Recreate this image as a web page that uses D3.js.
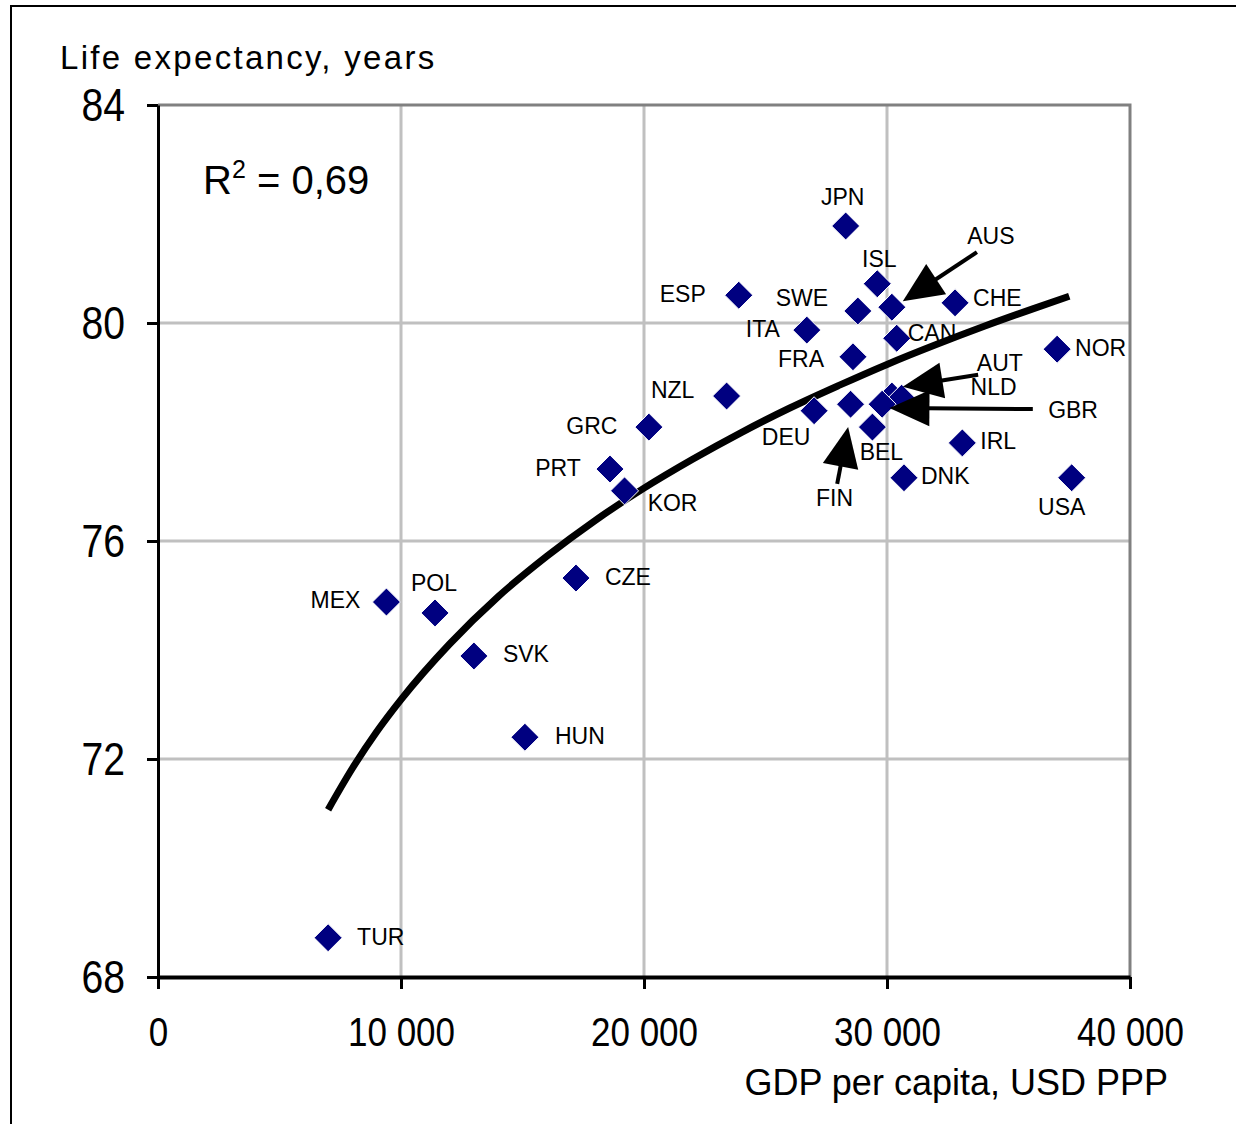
<!DOCTYPE html>
<html>
<head>
<meta charset="utf-8">
<script src="https://cdn.jsdelivr.net/npm/d3@7"></script>
<style>
  html, body { margin: 0; padding: 0; background: #fff; }
  svg { display: block; }
  text { font-family: "Liberation Sans", Arial, sans-serif; fill: #000; }
</style>
</head>
<body>
<svg id="chart" width="1236" height="1124"></svg>
<script>
// ---------- DATA ----------
const countries = ["JPN","ISL","AUS","SWE","CHE","ESP","ITA","CAN","FRA","NOR","AUT","NLD","GBR","NZL","GRC","DEU","FIN","BEL","IRL","PRT","KOR","DNK","USA","CZE","MEX","POL","SVK","HUN","TUR"];
const gdpPerCapita = [28300,29600,30200,28800,32800,23900,26700,30400,28600,37000,30200,30600,29800,23400,20200,27000,28500,29400,33100,18600,19200,30700,37600,17200,9400,11400,13000,15100,7000];
const lifeExpectancy = [81.78,80.72,80.29,80.22,80.37,80.51,79.87,79.72,79.38,79.52,78.66,78.62,78.51,78.66,78.09,78.39,78.51,78.09,77.80,77.32,76.92,77.16,77.16,75.32,74.88,74.68,73.89,72.40,68.72];

// Logarithmic trend line
const trendGdp  = [7000,8000,9000,10000,12000,14000,16000,18000,20000,22000,24000,26000,28000,30000,32000,34000,36000,37500];
const trendLife = [71.07,71.83,72.50,73.09,74.11,74.98,75.72,76.38,76.97,77.50,77.99,78.44,78.85,79.24,79.60,79.94,80.26,80.49];

const xTicks = [0,10000,20000,30000,40000];
const xTickLabels = ["0","10 000","20 000","30 000","40 000"];
const yTicks = [68,72,76,80,84];
const yTickLabels = ["68","72","76","80","84"];

const yTitle = "Life expectancy, years";
const xTitle = "GDP per capita, USD PPP";
const rSquaredLabel = "0,69";

// Callout arrows (tail -> tip), in data units
const arrowLabels = ["AUS","AUT/NLD","GBR","FIN"];
const arrowTailGdp  = [33700,33750,36000,27950];
const arrowTailLife = [81.30,79.05,78.42,77.05];
const arrowTipGdp   = [30650,30650,30100,28400];
const arrowTipLife  = [80.40,78.83,78.44,78.09];

// ---------- LAYOUT (label offsets in px) ----------
const labelLayout = {
  JPN:[-3,-29,"middle"], ISL:[2,-25,"middle"], AUS:[99,-71,"middle"], SWE:[-56,-13,"middle"],
  CHE:[18,-5,"start"], ESP:[-56,-1,"middle"], ITA:[-44,-1,"middle"], CAN:[11,-5,"start"],
  FRA:[-52,2,"middle"], NOR:[18,-1,"start"], AUT:[85,-33,"start"], NLD:[69,-11,"start"],
  GBR:[166,6,"start"], NZL:[-54,-6,"middle"], GRC:[-57,-1,"middle"], DEU:[-28,26,"middle"],
  FIN:[-16,94,"middle"], BEL:[9,25,"middle"], IRL:[18,-2,"start"], PRT:[-52,-1,"middle"],
  KOR:[48,12,"middle"], DNK:[17,-2,"start"], USA:[-10,29,"middle"], CZE:[29,-1,"start"],
  MEX:[-51,-2,"middle"], POL:[-1,-30,"middle"], SVK:[29,-2,"start"], HUN:[30,-1,"start"],
  TUR:[29,-1,"start"]
};

// ---------- CHART ----------
const svg = d3.select("#chart");
const plot = {left:158, right:1130, top:105, bottom:977};

const x = d3.scaleLinear().domain([0,40000]).range([plot.left, plot.right]);
const y = d3.scaleLinear().domain([68,84]).range([plot.bottom, plot.top]);

// outer frame
svg.append("rect").attr("x",11).attr("y",6).attr("width",1240).attr("height",1130)
  .attr("fill","none").attr("stroke","#000").attr("stroke-width",2);

// gridlines
svg.append("g").selectAll("line.vx").data(xTicks.slice(1,-1)).join("line")
  .attr("x1",d=>x(d)).attr("x2",d=>x(d)).attr("y1",plot.top).attr("y2",plot.bottom)
  .attr("stroke","#c0c0c0").attr("stroke-width",3);
svg.append("g").selectAll("line.hy").data(yTicks.slice(1,-1)).join("line")
  .attr("y1",d=>y(d)).attr("y2",d=>y(d)).attr("x1",plot.left).attr("x2",plot.right)
  .attr("stroke","#c0c0c0").attr("stroke-width",3);

// plot border top/right (gray)
svg.append("path")
  .attr("d",`M${plot.left},${plot.top}H${plot.right}V${plot.bottom}`)
  .attr("fill","none").attr("stroke","#808080").attr("stroke-width",3);

// axes
const xAxis = d3.axisBottom(x).tickValues(xTicks).tickFormat((d,i)=>xTickLabels[i]).tickSizeInner(12).tickSizeOuter(0).tickPadding(28);
const yAxis = d3.axisLeft(y).tickValues(yTicks).tickFormat((d,i)=>yTickLabels[i]).tickSizeInner(11).tickSizeOuter(0).tickPadding(22);

const gx = svg.append("g").attr("transform",`translate(0,${plot.bottom})`).call(xAxis);
gx.select(".domain").attr("stroke","#000").attr("stroke-width",4);
gx.selectAll(".tick line").attr("stroke","#000").attr("stroke-width",3);
gx.selectAll(".tick text").attr("font-size",34).attr("font-family","Liberation Sans, Arial, sans-serif")
  .attr("y",0).attr("dy",0)
  .attr("transform","translate(0,69) scale(1.03,1.2)");

const gy = svg.append("g").attr("transform",`translate(${plot.left},0)`).call(yAxis);
gy.select(".domain").attr("stroke","#000").attr("stroke-width",3);
gy.selectAll(".tick line").attr("stroke","#000").attr("stroke-width",3);
gy.selectAll(".tick text").attr("font-size",38).attr("font-family","Liberation Sans, Arial, sans-serif")
  .attr("x",0).attr("dy",0).attr("y",0)
  .attr("transform","translate(-33,15) scale(1.03,1.2)");

// titles
svg.append("text").attr("x",60).attr("y",69).attr("font-size",33).attr("letter-spacing",2.3).text(yTitle);
svg.append("text").attr("x",1168).attr("y",1095).attr("text-anchor","end").attr("font-size",36).text(xTitle);

// R squared
const rt = svg.append("text").attr("x",203).attr("y",194).attr("font-size",40);
rt.append("tspan").text("R");
rt.append("tspan").attr("font-size",25).attr("dy",-16).text("2");
rt.append("tspan").attr("dy",16).text(" = " + rSquaredLabel);

// trend line
const trend = trendGdp.map((g,i)=>[g,trendLife[i]]);
svg.append("path").datum(trend)
  .attr("d", d3.line().x(d=>x(d[0])).y(d=>y(d[1])).curve(d3.curveMonotoneX))
  .attr("fill","none").attr("stroke","#000").attr("stroke-width",7).attr("stroke-linejoin","round");

// points
const pts = countries.map((c,i)=>({c, g:gdpPerCapita[i], l:lifeExpectancy[i]}));
const r = 14;
svg.append("g").selectAll("path.pt").data(pts).join("path")
  .attr("d",d=>{const cx=x(d.g), cy=y(d.l); return `M${cx},${cy-r}L${cx+r},${cy}L${cx},${cy+r}L${cx-r},${cy}Z`;})
  .attr("fill","#000080").attr("stroke","#fff").attr("stroke-width",1);

// labels
svg.append("g").selectAll("text.lab").data(pts).join("text")
  .attr("x",d=>x(d.g)+labelLayout[d.c][0])
  .attr("y",d=>y(d.l)+labelLayout[d.c][1])
  .attr("text-anchor",d=>labelLayout[d.c][2])
  .attr("dominant-baseline","central")
  .attr("font-size",23)
  .text(d=>d.c);

// callout arrows
const headLen = 40, headHalf = 18;
arrowLabels.forEach((lab,i)=>{
  const x1=x(arrowTailGdp[i]), y1=y(arrowTailLife[i]);
  const x2=x(arrowTipGdp[i]), y2=y(arrowTipLife[i]);
  const dx=x2-x1, dy=y2-y1, len=Math.hypot(dx,dy), ux=dx/len, uy=dy/len;
  const bx=x2-ux*headLen, by=y2-uy*headLen;
  svg.append("line").attr("x1",x1).attr("y1",y1).attr("x2",bx+ux*2).attr("y2",by+uy*2)
    .attr("stroke","#000").attr("stroke-width",4);
  svg.append("path")
    .attr("d",`M${x2},${y2}L${bx-uy*headHalf},${by+ux*headHalf}L${bx+uy*headHalf},${by-ux*headHalf}Z`)
    .attr("fill","#000");
});
</script>
</body>
</html>
